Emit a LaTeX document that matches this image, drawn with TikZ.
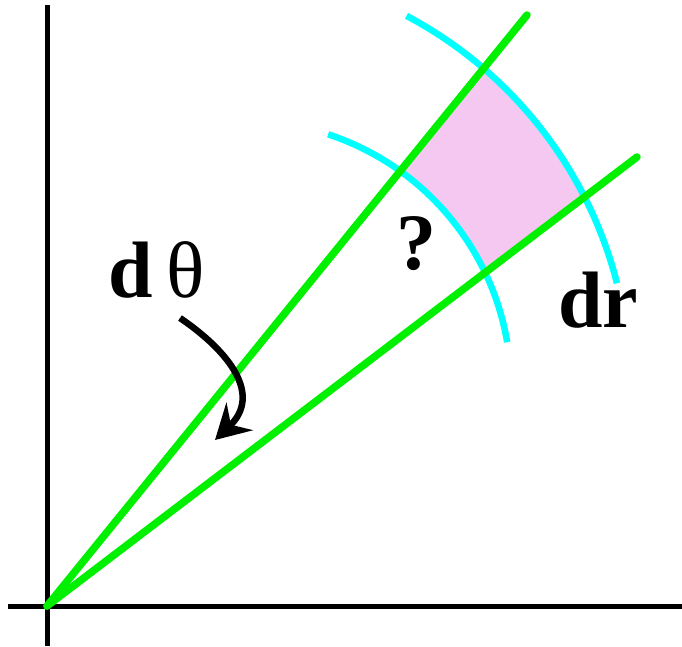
\documentclass[tikz,border=0pt]{standalone}
\usepackage{fontspec}
\setmainfont{Liberation Serif}
\usetikzlibrary{arrows.meta}
\definecolor{ggreen}{RGB}{0,240,0}
\definecolor{gcyan}{RGB}{0,255,255}
\definecolor{gpink}{RGB}{245,200,242}
\begin{document}
\begin{tikzpicture}[x=1pt,y=-1pt,
  axis/.style={line width=5pt,black},
  ray/.style={line width=7.5pt,ggreen},
  arcline/.style={line width=6.5pt,gcyan},
  lbl/.style={inner sep=0pt,font=\fontsize{80}{82}\selectfont}]
\useasboundingbox (0,0) rectangle (682,646);
\coordinate (O) at (47,606);
\coordinate (E1) at (527,15);
\coordinate (E2) at (637,157);
\coordinate (Cout) at (210,387);
\coordinate (Cin) at (245,387);
% pink patch
\begin{scope}
  \clip (O) -- (E1) -- (E2) -- cycle;
  \fill[gpink,even odd rule] (Cout) circle[radius=420] (Cin) circle[radius=266];
\end{scope}
% axes
\coordinate (Ytop) at (47,5);
\coordinate (Ybot) at (47,646);
\coordinate (Xl) at (8,606);
\coordinate (Xr) at (682,606);
\draw[axis] (Ytop) -- (Ybot);
\draw[axis] (Xl) -- (Xr);
% arcs
\draw[arcline] (Cout) ++(-62.1:420) arc[start angle=-62.1,end angle=-14.3,radius=420];
\draw[arcline] (Cin) ++(-71.8:266) arc[start angle=-71.8,end angle=-9.7,radius=266];
% rays
\draw[ray,line cap=round] (O) -- (E1);
\draw[ray,line cap=round] (O) -- (E2);
% labels
\node[lbl] (dth) at (157,270) {\textbf{d}\,θ};
\node[lbl] (q) at (416,244) {\textbf{?}};
\node[lbl] (dr) at (598,300) {\textbf{dr}};
% arrow
\coordinate (As) at (180,318);
\coordinate (At) at (215,440);
\draw[line width=6.5pt,-{Stealth[length=34pt,width=38pt,inset=12pt]}] (As) .. controls (230,352) and (262,395) .. (At);
\end{tikzpicture}
\end{document}
